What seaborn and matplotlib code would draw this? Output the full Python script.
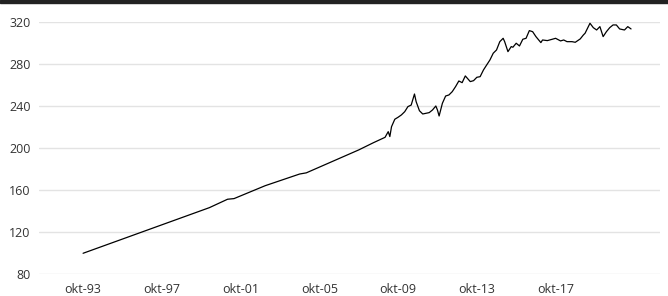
import pandas as pd
import matplotlib
matplotlib.use("Agg")
import matplotlib.pyplot as plt
from matplotlib.patches import Rectangle
import seaborn as sns

# values (monthly index, base 100 in Oct 1993)
dates = [
    "1993-10", "2000-03", "2001-02", "2001-06", "2003-01", "2004-10", "2005-02",
    "2007-10", "2008-07", "2009-02", "2009-04", "2009-05", "2009-06", "2009-08",
    "2009-10", "2009-12", "2010-02", "2010-04", "2010-06", "2010-08", "2010-09",
    "2010-11", "2011-01", "2011-05", "2011-07", "2011-09", "2011-10", "2011-11",
    "2012-01", "2012-03", "2012-05", "2012-07", "2012-09", "2012-11", "2013-01",
    "2013-03", "2013-06", "2013-08", "2013-10", "2013-12", "2014-02", "2014-04",
    "2014-06", "2014-08", "2014-10", "2014-12", "2015-02", "2015-03", "2015-05",
    "2015-07", "2015-08", "2015-10", "2015-12", "2016-02", "2016-04", "2016-06",
    "2016-08", "2016-10", "2017-01", "2017-02", "2017-05", "2017-08", "2017-10",
    "2018-01", "2018-03", "2018-05", "2018-08", "2018-10", "2019-01", "2019-03",
    "2019-04", "2019-07", "2019-09", "2019-11", "2020-01", "2020-03", "2020-05",
    "2020-07", "2020-09", "2020-11", "2021-01", "2021-04", "2021-06", "2021-08",
]
values = [
    100.0, 143.4, 151.4, 152.0, 164.3, 175.4, 176.5,
    198.3, 205.2, 210.3, 215.7, 211.0, 220.4, 227.5,
    229.4, 231.6, 234.7, 239.5, 241.0, 251.5, 244.2,
    235.6, 232.5, 233.8, 236.3, 240.1, 236.3, 230.6,
    242.7, 249.6, 250.6, 253.7, 258.5, 263.9, 262.3,
    268.7, 263.3, 264.2, 267.4, 268.0, 274.4, 279.1,
    283.9, 290.3, 293.4, 301.3, 304.5, 301.3, 291.8,
    296.6, 296.0, 299.8, 297.2, 303.6, 304.5, 311.8,
    310.8, 306.1, 300.4, 302.9, 302.3, 303.6, 304.5,
    302.0, 302.9, 301.3, 301.3, 300.7, 303.9, 307.7,
    309.3, 318.8, 314.6, 312.4, 315.6, 306.1, 310.8,
    314.6, 317.2, 317.2, 313.4, 312.4, 315.6, 313.4,
]

tick_dates = ["1993-10", "1997-10", "2001-10", "2005-10", "2009-10", "2013-10", "2017-10"]
tick_labels = ["okt-93", "okt-97", "okt-01", "okt-05", "okt-09", "okt-13", "okt-17"]
y_ticks = [80, 120, 160, 200, 240, 280, 320]

df = pd.DataFrame({"date": pd.to_datetime(dates), "value": values})

sns.set_style("white")
plt.rcParams["font.family"] = ["Open Sans", "DejaVu Sans"]

fig = plt.figure(figsize=(6.68, 2.96), dpi=100)
ax = fig.add_axes([39 / 668, (296 - 274.3) / 296, (660 - 39) / 668, (274.3 - 22) / 296])

sns.lineplot(data=df, x="date", y="value", color="black", linewidth=0.9, ax=ax)

ax.set_ylim(80, 320)
ax.set_yticks(y_ticks)
ax.set_xlim(pd.Timestamp("1991-07-06"), pd.Timestamp("2023-01-20"))
ax.set_xticks(pd.to_datetime(tick_dates))
ax.set_xticklabels(tick_labels)
ax.set_xlabel("")
ax.set_ylabel("")

ax.grid(axis="y", color="#e3e3e3", linewidth=1.0)
ax.grid(axis="x", visible=False)
ax.set_axisbelow(True)
for s in ax.spines.values():
    s.set_visible(False)
ax.tick_params(axis="both", length=0, labelsize=9, labelcolor="#333333")
ax.tick_params(axis="x", pad=6)
ax.tick_params(axis="y", pad=6)

# dark band along the top edge
fig.add_artist(Rectangle((0, 1 - 2.5 / 296), 1, 2.5 / 296, transform=fig.transFigure,
                         color="#222222", zorder=10))

fig.savefig("out.png", dpi=100)
